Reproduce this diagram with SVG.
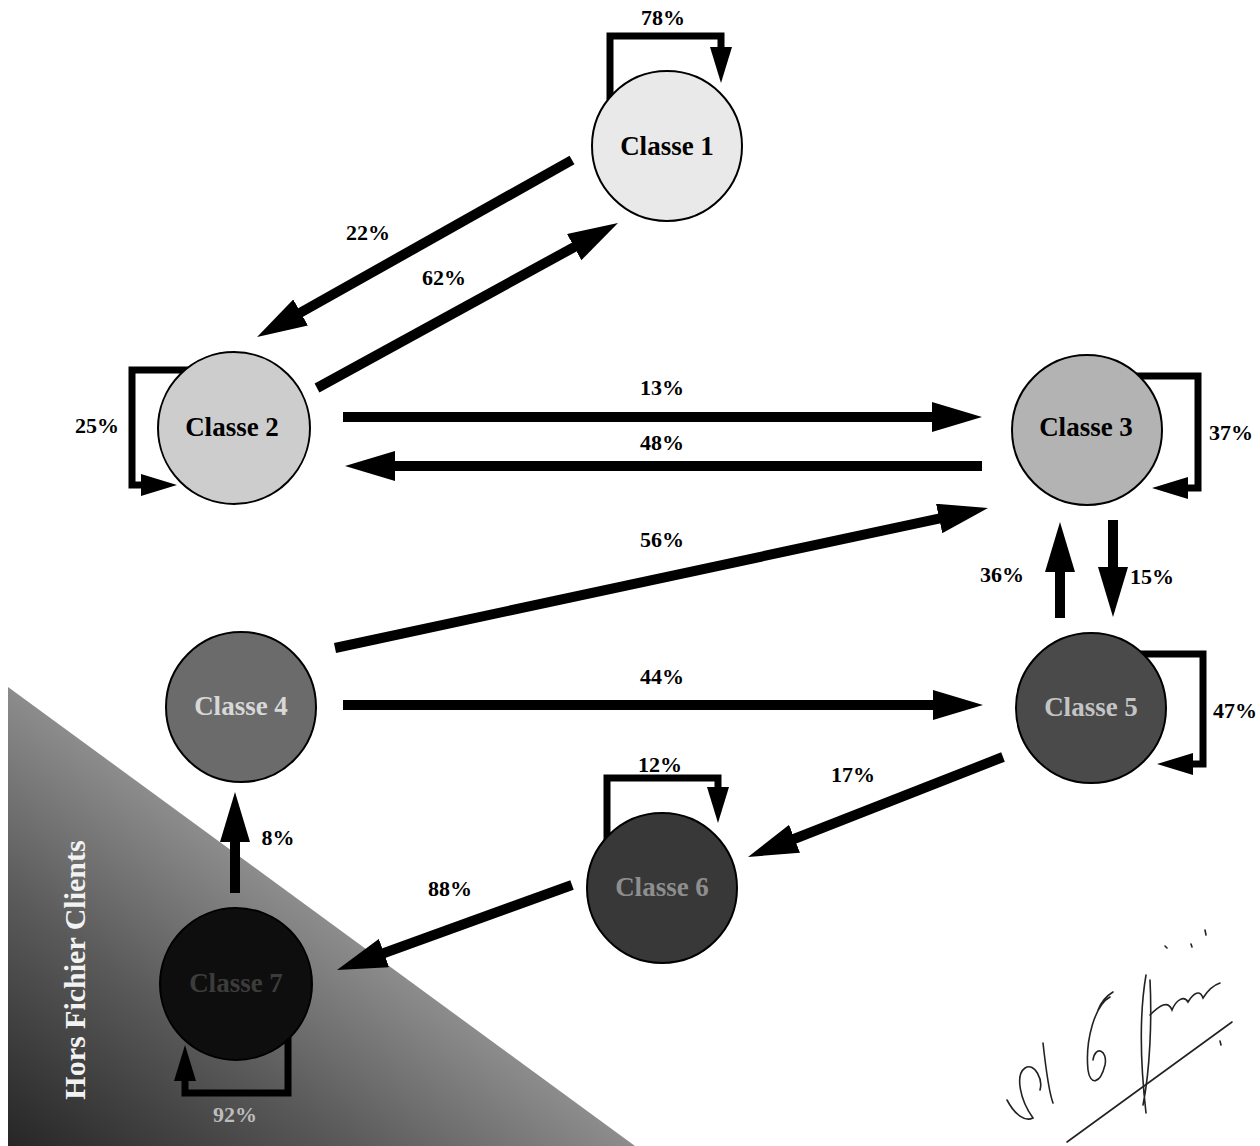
<svg xmlns="http://www.w3.org/2000/svg" width="1260" height="1146" viewBox="0 0 1260 1146">
<style>
.lbl{font-family:"Liberation Serif","Times New Roman",serif;font-weight:bold;font-size:22px;fill:#000;text-anchor:middle}
.node{stroke:#000;stroke-width:2}
.nt{font-family:"Liberation Serif","Times New Roman",serif;font-weight:bold;font-size:27px;text-anchor:middle}
.edge{stroke:#000;stroke-width:10;fill:none;marker-end:url(#ah)}
.loop{stroke:#000;stroke-width:7;fill:none;stroke-linejoin:miter;marker-end:url(#sh)}
.sig{stroke:#222;stroke-width:1.6;fill:none;stroke-linecap:round}
</style>
<defs>
<marker id="ah" markerUnits="userSpaceOnUse" markerWidth="50" markerHeight="30" viewBox="0 0 50 30" refX="2" refY="15" orient="auto"><path d="M0,0 L50,15 L0,30 z" fill="#000"/></marker>
<marker id="sh" markerUnits="userSpaceOnUse" markerWidth="36" markerHeight="22" viewBox="0 0 36 22" refX="2" refY="11" orient="auto"><path d="M0,0 L36,11 L0,22 z" fill="#000"/></marker>
<linearGradient id="tri" gradientUnits="userSpaceOnUse" x1="321" y1="916" x2="102" y2="1215">
<stop offset="0" stop-color="#8c8c8c"/>
<stop offset="0.45" stop-color="#5a5a5a"/>
<stop offset="1" stop-color="#262626"/>
</linearGradient>
</defs>
<rect width="1260" height="1146" fill="#fff"/>
<g id="zone-hors-fichier">
<polygon points="8,687 8,1146 635,1146" fill="url(#tri)"/>
<text transform="translate(85,970) rotate(-90)" font-family="Liberation Serif, Times New Roman, serif" font-weight="bold" font-size="30" fill="#f2f2f2" text-anchor="middle">Hors Fichier Clients</text>
</g>
<g id="connectors">
<line class="edge" x1="572" y1="160" x2="298.9" y2="313.5"/>
<line class="edge" x1="317" y1="388" x2="575.9" y2="246.1"/>
<line class="edge" x1="343" y1="417" x2="934" y2="417"/>
<line class="edge" x1="982" y1="466" x2="393" y2="466"/>
<line class="edge" x1="335" y1="648" x2="941.1" y2="518.1"/>
<line class="edge" x1="343" y1="705" x2="935" y2="705"/>
<line class="edge" x1="1060" y1="618" x2="1060" y2="570"/>
<line class="edge" x1="1113" y1="520" x2="1113" y2="569"/>
<line class="edge" x1="1003" y1="757" x2="792.7" y2="839.5"/>
<line class="edge" x1="572" y1="885" x2="382.1" y2="953.7"/>
<line class="edge" x1="235" y1="893" x2="235" y2="840"/>
<path class="loop" d="M610,100 L610,36 L721,36 L721,49"/>
<path class="loop" d="M192,370 L132,370 L132,485 L143,485"/>
<path class="loop" d="M1135,376 L1198,376 L1198,488 L1186,488"/>
<path class="loop" d="M1140,654 L1203,654 L1203,764 L1191,764"/>
<path class="loop" d="M607,845 L607,778 L718,778 L718,789"/>
<path class="loop" d="M288,1035 L288,1093 L185,1093 L185,1079"/>
<text class="lbl" x="663" y="25">78%</text>
<text class="lbl" x="368" y="240">22%</text>
<text class="lbl" x="444" y="285">62%</text>
<text class="lbl" x="97" y="433">25%</text>
<text class="lbl" x="662" y="395">13%</text>
<text class="lbl" x="662" y="450">48%</text>
<text class="lbl" x="1231" y="440">37%</text>
<text class="lbl" x="662" y="547">56%</text>
<text class="lbl" x="1002" y="582">36%</text>
<text class="lbl" x="1152" y="584">15%</text>
<text class="lbl" x="662" y="684">44%</text>
<text class="lbl" x="1235" y="718">47%</text>
<text class="lbl" x="660" y="772">12%</text>
<text class="lbl" x="853" y="782">17%</text>
<text class="lbl" x="278" y="845">8%</text>
<text class="lbl" x="450" y="896">88%</text>
<text class="lbl" x="235" y="1122" style="fill:#bdbdbd">92%</text>
</g>
<g id="classe1"><circle class="node" cx="667" cy="146" r="75" fill="#e9e9e9"/><text class="nt" x="667" y="155" fill="#000">Classe 1</text></g>
<g id="classe2"><circle class="node" cx="234" cy="428" r="76" fill="#cdcdcd"/><text class="nt" x="232" y="436" fill="#000">Classe 2</text></g>
<g id="classe3"><circle class="node" cx="1087" cy="430" r="75" fill="#b3b3b3"/><text class="nt" x="1086" y="436" fill="#000">Classe 3</text></g>
<g id="classe4"><circle class="node" cx="241" cy="707" r="75" fill="#6b6b6b"/><text class="nt" x="241" y="715" fill="#d8d8d8">Classe 4</text></g>
<g id="classe5"><circle class="node" cx="1091" cy="708" r="75" fill="#4a4a4a"/><text class="nt" x="1091" y="716" fill="#c4c4c4">Classe 5</text></g>
<g id="classe6"><circle class="node" cx="662" cy="888" r="75" fill="#383838"/><text class="nt" x="662" y="896" fill="#8e8e8e">Classe 6</text></g>
<g id="classe7"><circle class="node" cx="236" cy="984" r="76" fill="#0e0e0e"/><text class="nt" x="236" y="992" fill="#3c3c3c">Classe 7</text></g>
<g id="signature">
<path class="sig" d="M1067,1142 L1232,1022"/>
<path class="sig" d="M1007,1100 C1015,1115 1025,1122 1033,1118 C1020,1100 1015,1075 1025,1068 C1035,1062 1043,1080 1040,1090 M1043,1043 C1046,1070 1050,1095 1053,1103"/>
<path class="sig" d="M1110,997 C1095,1005 1085,1040 1088,1070 C1090,1085 1100,1085 1105,1065 C1108,1050 1095,1045 1093,1060 M1098,1010 C1102,1000 1108,995 1113,992"/>
<path class="sig" d="M1146,975 C1140,1010 1140,1060 1146,1113 M1150,980 C1152,1020 1150,1070 1143,1105"/>
<path class="sig" d="M1150,1015 C1160,1005 1168,1000 1172,1010 C1176,1000 1184,995 1188,1002 C1194,992 1200,990 1203,998 C1208,990 1214,985 1220,983"/>
<path class="sig" d="M1205,930 L1206,935 M1165,946 L1167,948 M1191,944 L1192,947 M1220,1041 L1221,1045"/>
</g>
</svg>
